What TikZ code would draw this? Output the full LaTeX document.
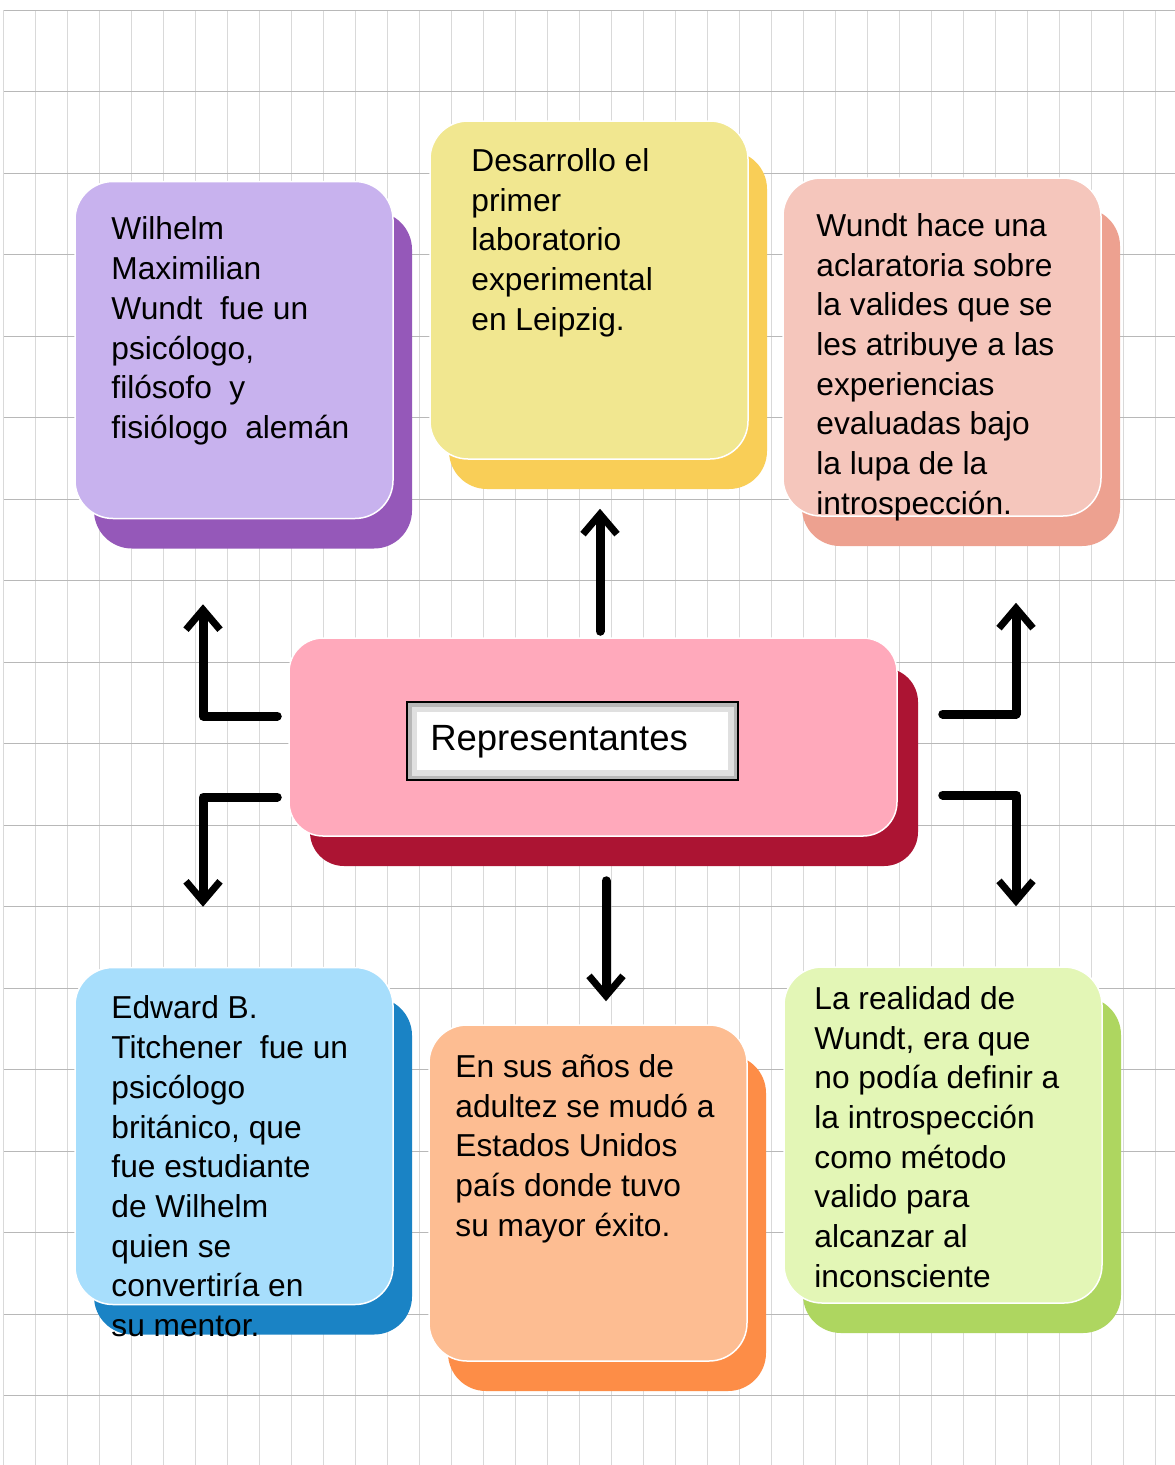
\documentclass[tikz,border=0pt]{standalone}
\usepackage{fontspec}
\setmainfont{Liberation Sans}
\usetikzlibrary{shapes.geometric, arrows.meta, positioning, shadows}

\definecolor{lila}{HTML}{C8B2EE}
\definecolor{lilaoscuro}{HTML}{9558B9}
\definecolor{amarillo}{HTML}{F1E790}
\definecolor{amarillooscuro}{HTML}{F9CE57}
\definecolor{salmon}{HTML}{F5C6BC}
\definecolor{salmonoscuro}{HTML}{EDA190}
\definecolor{rosa}{HTML}{FFA9BB}
\definecolor{rosaoscuro}{HTML}{AC1433}
\definecolor{celeste}{HTML}{A7DEFC}
\definecolor{celesteoscuro}{HTML}{1A83C5}
\definecolor{naranja}{HTML}{FDBD92}
\definecolor{naranjaoscuro}{HTML}{FD8D47}
\definecolor{verde}{HTML}{E3F6B6}
\definecolor{verdeoscuro}{HTML}{AED660}

\tikzstyle{nota} = [
  rectangle,
  rounded corners=38pt,
  draw=white,
  line width=1.5pt,
  minimum width=318pt,
  minimum height=337pt
]
\tikzset{sombra/.style={general shadow={fill=#1, shadow xshift=19pt, shadow yshift=-30pt}}}
\tikzstyle{texto} = [
  align=left,
  inner sep=0pt,
  anchor=north west,
  font=\fontsize{31.7pt}{39.7pt}\selectfont
]
\tikzstyle{etiqueta} = [
  rectangle,
  draw=black,
  line width=2pt,
  fill=white,
  minimum width=331pt,
  minimum height=78pt,
  text width=285pt,
  inner xsep=23pt,
  align=left,
  font=\fontsize{36.5pt}{40pt}\selectfont,
  path picture={
    \draw [black!12, line width=20pt] (path picture bounding box.south west) rectangle (path picture bounding box.north east);
    \draw [black!28, line width=9pt] (path picture bounding box.south west) rectangle (path picture bounding box.north east);
  }
]
\tikzstyle{rejilla} = [black!15, line width=0.8pt]
\tikzstyle{flecha} = [line width=9pt, line cap=round, line join=round, -{Straight Barb[length=20pt, width=34pt, line width=7pt]}]

\begin{document}
\begin{tikzpicture}[x=1pt, y=-1pt]
    \useasboundingbox (0,0) rectangle (1175,1465);
    % hoja cuadriculada
    \fill [white] (0,0) rectangle (1175,1465);
    \foreach \x in {3,35,...,1175} \draw [rejilla] (\x,10) -- (\x,1465);
    \foreach \y in {10,91.5,...,1465} \draw [rejilla, black!28] (4,\y) -- (1175,\y);

    \node (representantes) [nota, rounded corners=34pt, minimum width=608pt, minimum height=198pt, fill=rosa, general shadow={fill=rosaoscuro, shadow xshift=21pt, shadow yshift=-30pt}] at (593,737) {};
    \node (wilhelm) [nota, fill=lila, sombra=lilaoscuro] at (234,350) {};
    \node (laboratorio) [nota, minimum height=338pt, fill=amarillo, sombra=amarillooscuro] at (589,290) {};
    \node (validez) [nota, minimum height=338pt, fill=salmon, sombra=salmonoscuro] at (942,347) {};
    \node (titchener) [nota, fill=celeste, sombra=celesteoscuro] at (234,1136) {};
    \node (mudanza) [nota, minimum height=336pt, fill=naranja, sombra=naranjaoscuro] at (588,1193) {};
    \node (realidad) [nota, minimum width=318pt, minimum height=336pt, fill=verde, sombra=verdeoscuro] at (943,1135) {};

    \node (etiqueta-texto) [etiqueta, below right=64pt and 118pt of representantes.north west] {Representantes};

    \node (wilhelm-texto) [texto, below right=36pt and 37pt of wilhelm.north west] {Wilhelm\\Maximilian\\Wundt\ \ fue un\\psicólogo,\\filósofo\ \ y\\fisiólogo\ \ alemán};
    \node (laboratorio-texto) [texto, below right=28pt and 42pt of laboratorio.north west] {Desarrollo el\\primer\\laboratorio\\experimental\\en Leipzig.};
    \node (validez-texto) [texto, below right=36pt and 34pt of validez.north west] {Wundt hace una\\aclaratoria sobre\\la valides que se\\les atribuye a las\\experiencias\\evaluadas bajo\\la lupa de la\\introspección.};
    \node (titchener-texto) [texto, below right=29pt and 37pt of titchener.north west] {Edward B.\\Titchener\ \ fue un\\psicólogo\\británico, que\\fue estudiante\\de Wilhelm\\quien se\\convertiría en\\su mentor.};
    \node (mudanza-texto) [texto, below right=30pt and 27pt of mudanza.north west] {En sus años de\\adultez se mudó a\\Estados Unidos\\país donde tuvo\\su mayor éxito.};
    \node (realidad-texto) [texto, below right=20pt and 31pt of realidad.north west] {La realidad de\\Wundt, era que\\no podía definir a\\la introspección\\como método\\valido para\\alcanzar al\\inconsciente};

    \draw [flecha, shorten <=6pt, shorten >=49pt] ([xshift=7pt]representantes.north) -- ([xshift=11pt]laboratorio.south);
    \draw [flecha, shorten <=44pt, shorten >=23pt] ([xshift=13pt]representantes.south) -- ([xshift=18pt]mudanza.north);
    \draw [flecha, shorten <=11pt, shorten >=85pt] ([yshift=21pt]representantes.west) -| ([xshift=-31pt]wilhelm.south);
    \draw [flecha, shorten <=11pt, shorten >=60pt] ([yshift=-60pt]representantes.west) -| ([xshift=-31pt]titchener.north);
    \draw [flecha, shorten <=45pt, shorten >=86pt] ([yshift=23pt]representantes.east) -| ([xshift=74pt]validez.south);
    \draw [flecha, shorten <=45pt, shorten >=60pt] ([yshift=-58pt]representantes.east) -| ([xshift=73pt]realidad.north);
  \end{tikzpicture}
\end{document}
